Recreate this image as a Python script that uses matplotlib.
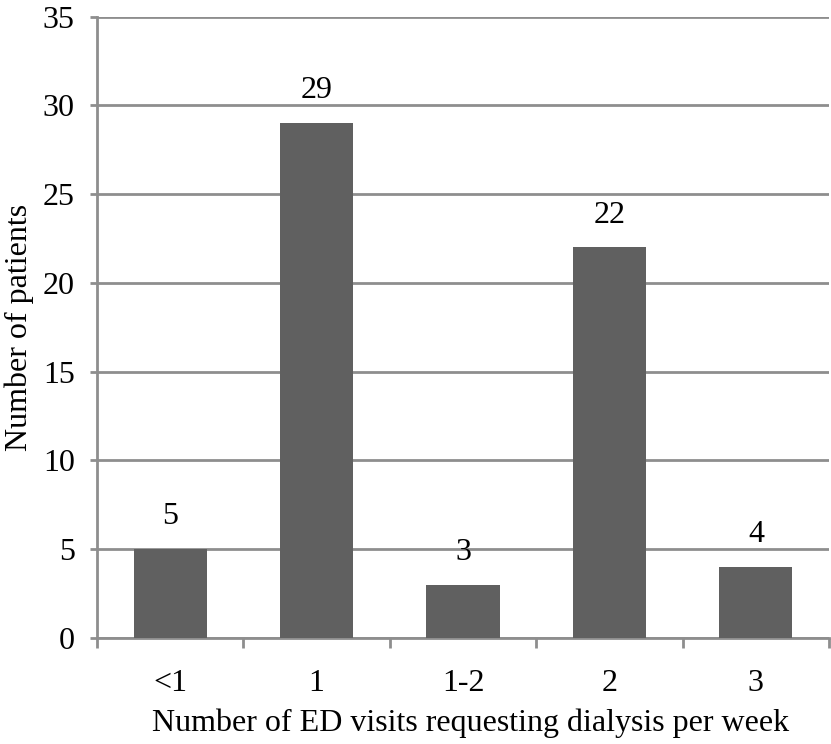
import matplotlib.pyplot as plt
import matplotlib
import numpy as np

matplotlib.rcParams['font.family'] = ['Liberation Serif', 'DejaVu Serif']
matplotlib.rcParams['font.size'] = 23

categories = ['<1', '1', '1-2', '2', '3']
patients = [5, 29, 3, 22, 4]
yticks = [0, 5, 10, 15, 20, 25, 30, 35]

bar_color = '#606060'
line_color = '#8e8e8e'

fig = plt.figure(figsize=(8.31, 7.44), dpi=100)
ax = fig.add_axes([0.1167, 0.1425, 0.881, 0.835])

x = np.arange(len(categories))
ax.bar(x, patients, width=0.5, color=bar_color, zorder=3)

# numbers above the bars
for xi, v in zip(x, patients):
    ax.text(xi, v + 1.0, str(v), ha='center', va='bottom', fontsize=23)

ax.set_xlim(-0.5, len(categories) - 0.5)
ax.set_ylim(0, 35)
ax.set_yticks(yticks)
ax.yaxis.grid(True, color=line_color, linewidth=2, zorder=0)

ax.set_xticks(x)
ax.set_xticklabels(categories, fontsize=23)
ax.set_xticks(np.arange(-0.5, len(categories)), minor=True)
ax.tick_params(axis='x', which='major', length=0, pad=22)
ax.tick_params(axis='x', which='minor', length=7, width=2, color=line_color)
ax.tick_params(axis='y', length=5, width=2, color=line_color, pad=11, labelsize=23)

for s in ['top', 'right']:
    ax.spines[s].set_visible(False)
for s in ['left', 'bottom']:
    ax.spines[s].set_color(line_color)
    ax.spines[s].set_linewidth(2)

ax.set_xlabel('Number of ED visits requesting dialysis per week', labelpad=8, x=0.51)
ax.set_ylabel('Number of patients', labelpad=6)

fig.savefig('out.png', dpi=100)
